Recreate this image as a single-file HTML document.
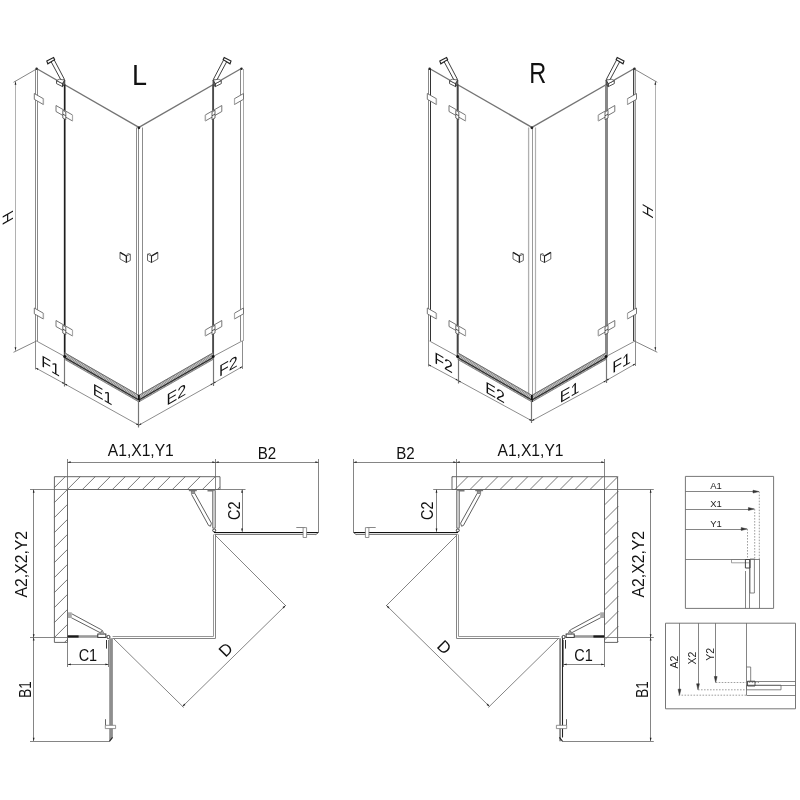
<!DOCTYPE html>
<html><head><meta charset="utf-8"><style>
html,body{margin:0;padding:0;background:#fff;}
svg{display:block;font-family:"Liberation Sans",sans-serif;}
text{-webkit-font-smoothing:antialiased;}
body{will-change:transform;}
</style></head><body>
<svg width="800" height="800" viewBox="0 0 800 800">
<defs>
<pattern id="hatchL" patternUnits="userSpaceOnUse" width="1.7" height="20" patternTransform="rotate(-35)"><rect width="1.7" height="20" fill="#8a8a8a"/><rect width="0.7" height="20" fill="#d8d8d8"/></pattern>
<pattern id="hatchR" patternUnits="userSpaceOnUse" width="1.7" height="20" patternTransform="rotate(35)"><rect width="1.7" height="20" fill="#8a8a8a"/><rect width="0.7" height="20" fill="#d8d8d8"/></pattern>
</defs>
<rect width="800" height="800" fill="#fff"/>
<line x1="36.50" y1="68.50" x2="138.90" y2="127.40" stroke="#747474" stroke-width="1.35"/>
<line x1="138.90" y1="127.40" x2="241.30" y2="68.50" stroke="#747474" stroke-width="1.35"/>
<line x1="35.50" y1="69.00" x2="35.50" y2="341.00" stroke="#8a8a8a" stroke-width="1"/>
<line x1="37.50" y1="69.00" x2="37.50" y2="341.00" stroke="#8a8a8a" stroke-width="1"/>
<line x1="240.50" y1="69.00" x2="240.50" y2="341.00" stroke="#888" stroke-width="1"/>
<line x1="243.50" y1="69.00" x2="243.50" y2="341.00" stroke="#aaa" stroke-width="1"/>
<line x1="136.50" y1="127.50" x2="136.50" y2="398.50" stroke="#8c8c8c" stroke-width="1"/>
<line x1="138.50" y1="127.50" x2="138.50" y2="398.50" stroke="#8c8c8c" stroke-width="1"/>
<line x1="142.50" y1="127.50" x2="142.50" y2="398.50" stroke="#8c8c8c" stroke-width="1"/>
<circle cx="36.60" cy="68.8" r="1.2" fill="#222"/>
<circle cx="241.50" cy="68.8" r="1.2" fill="#222"/>
<circle cx="138.90" cy="127.8" r="1.4" fill="#222"/>
<line x1="64.70" y1="84.50" x2="64.70" y2="356.00" stroke="#1e1e1e" stroke-width="1.7"/>
<line x1="213.10" y1="84.50" x2="213.10" y2="356.00" stroke="#4a4a4a" stroke-width="1.9"/>
<line x1="36.50" y1="341.00" x2="64.70" y2="356.50" stroke="#8c8c8c" stroke-width="1"/>
<line x1="242.00" y1="341.00" x2="213.10" y2="356.50" stroke="#8c8c8c" stroke-width="1"/>
<polygon points="64.70,352.60 138.90,395.10 138.90,402.10 64.70,359.60" stroke="none" stroke-width="0" fill="url(#hatchL)"/>
<line x1="64.70" y1="352.80" x2="138.90" y2="395.30" stroke="#666" stroke-width="0.9"/>
<line x1="64.70" y1="359.40" x2="138.90" y2="401.90" stroke="#777" stroke-width="0.8"/>
<line x1="64.70" y1="357.40" x2="138.90" y2="399.90" stroke="#2a2a2a" stroke-width="1.2"/>
<polygon points="213.10,352.60 138.90,395.10 138.90,402.10 213.10,359.60" stroke="none" stroke-width="0" fill="url(#hatchR)"/>
<line x1="213.10" y1="352.80" x2="138.90" y2="395.30" stroke="#666" stroke-width="0.9"/>
<line x1="213.10" y1="359.40" x2="138.90" y2="401.90" stroke="#777" stroke-width="0.8"/>
<line x1="213.10" y1="357.40" x2="138.90" y2="399.90" stroke="#2a2a2a" stroke-width="1.2"/>
<circle cx="64.70" cy="356.5" r="1.5" fill="#111"/>
<circle cx="213.10" cy="356.5" r="1.5" fill="#111"/>
<line x1="138.90" y1="395.00" x2="138.90" y2="402.00" stroke="#111" stroke-width="1.8"/>
<polygon points="51.00,61.50 61.50,81.00 64.50,79.50 54.00,59.50" stroke="#2a2a2a" stroke-width="0.9" fill="#fff"/>
<polygon points="46.80,61.00 53.60,57.60 54.60,59.60 47.80,63.80" stroke="#222" stroke-width="1.1" fill="#fff"/>
<polygon points="56.50,80.60 62.50,83.60 62.50,86.60 56.50,83.60" stroke="#444" stroke-width="0.9" fill="#fff"/>
<polygon points="56.50,80.60 59.50,79.20 64.80,80.20 62.50,83.60" stroke="#444" stroke-width="0.8" fill="#fff"/>
<polygon points="62.50,83.60 64.80,80.20 64.80,84.50 62.50,86.60" stroke="#333" stroke-width="0.8" fill="#666"/>
<polygon points="226.80,61.50 216.30,81.00 213.30,79.50 223.80,59.50" stroke="#2a2a2a" stroke-width="0.9" fill="#fff"/>
<polygon points="231.00,61.00 224.20,57.60 223.20,59.60 230.00,63.80" stroke="#222" stroke-width="1.1" fill="#fff"/>
<polygon points="221.30,80.60 215.30,83.60 215.30,86.60 221.30,83.60" stroke="#444" stroke-width="0.9" fill="#fff"/>
<polygon points="221.30,80.60 218.30,79.20 213.00,80.20 215.30,83.60" stroke="#444" stroke-width="0.8" fill="#fff"/>
<polygon points="215.30,83.60 213.00,80.20 213.00,84.50 215.30,86.60" stroke="#333" stroke-width="0.8" fill="#666"/>
<polygon points="34.30,93.50 43.30,98.67 43.30,104.47 34.30,99.30" stroke="#666" stroke-width="0.9" fill="#fff"/>
<line x1="43.50" y1="98.67" x2="43.50" y2="104.47" stroke="#aaa" stroke-width="1.2"/>
<polygon points="243.50,93.50 234.50,98.67 234.50,104.47 243.50,99.30" stroke="#666" stroke-width="0.9" fill="#fff"/>
<line x1="234.50" y1="98.67" x2="234.50" y2="104.47" stroke="#aaa" stroke-width="1.2"/>
<polygon points="34.30,308.00 43.30,313.18 43.30,318.98 34.30,313.80" stroke="#666" stroke-width="0.9" fill="#fff"/>
<line x1="43.50" y1="313.18" x2="43.50" y2="318.98" stroke="#aaa" stroke-width="1.2"/>
<polygon points="243.50,308.00 234.50,313.18 234.50,318.98 243.50,313.80" stroke="#666" stroke-width="0.9" fill="#fff"/>
<line x1="234.50" y1="313.18" x2="234.50" y2="318.98" stroke="#aaa" stroke-width="1.2"/>
<polygon points="56.00,105.50 72.50,114.99 72.50,120.99 56.00,111.50" stroke="#666" stroke-width="0.9" fill="#fff"/>
<line x1="72.50" y1="114.99" x2="72.50" y2="120.99" stroke="#aaa" stroke-width="1.2"/>
<polygon points="62.80,110.30 65.80,112.00 65.80,119.70 62.80,118.00" stroke="#444" stroke-width="0.8" fill="#fff"/>
<line x1="62.80" y1="114.10" x2="65.80" y2="115.80" stroke="#444" stroke-width="0.9"/>
<polygon points="221.80,105.50 205.30,114.99 205.30,120.99 221.80,111.50" stroke="#666" stroke-width="0.9" fill="#fff"/>
<line x1="205.50" y1="114.99" x2="205.50" y2="120.99" stroke="#aaa" stroke-width="1.2"/>
<polygon points="215.00,110.30 212.00,112.00 212.00,119.70 215.00,118.00" stroke="#444" stroke-width="0.8" fill="#fff"/>
<line x1="215.00" y1="114.10" x2="212.00" y2="115.80" stroke="#444" stroke-width="0.9"/>
<polygon points="56.00,320.50 72.50,329.99 72.50,335.99 56.00,326.50" stroke="#666" stroke-width="0.9" fill="#fff"/>
<line x1="72.50" y1="329.99" x2="72.50" y2="335.99" stroke="#aaa" stroke-width="1.2"/>
<polygon points="62.80,325.30 65.80,327.00 65.80,334.70 62.80,333.00" stroke="#444" stroke-width="0.8" fill="#fff"/>
<line x1="62.80" y1="329.10" x2="65.80" y2="330.80" stroke="#444" stroke-width="0.9"/>
<polygon points="221.80,320.50 205.30,329.99 205.30,335.99 221.80,326.50" stroke="#666" stroke-width="0.9" fill="#fff"/>
<line x1="205.50" y1="329.99" x2="205.50" y2="335.99" stroke="#aaa" stroke-width="1.2"/>
<polygon points="215.00,325.30 212.00,327.00 212.00,334.70 215.00,333.00" stroke="#444" stroke-width="0.8" fill="#fff"/>
<line x1="215.00" y1="329.10" x2="212.00" y2="330.80" stroke="#444" stroke-width="0.9"/>
<polygon points="120.00,252.40 126.30,256.00 126.30,262.50 120.00,259.00" stroke="#555" stroke-width="0.9" fill="#fff"/>
<polygon points="126.30,256.00 130.30,254.20 130.30,260.50 126.30,262.50" stroke="#555" stroke-width="0.9" fill="#fff"/>
<polyline points="126.30,256.00 127.90,253.40 130.30,254.20" stroke="#666" stroke-width="0.8" fill="none"/>
<line x1="120.00" y1="252.40" x2="126.30" y2="256.00" stroke="#222" stroke-width="1.3"/>
<line x1="126.50" y1="256.00" x2="126.50" y2="262.50" stroke="#222" stroke-width="1.1"/>
<polygon points="157.80,252.40 151.50,256.00 151.50,262.50 157.80,259.00" stroke="#555" stroke-width="0.9" fill="#fff"/>
<polygon points="151.50,256.00 147.50,254.20 147.50,260.50 151.50,262.50" stroke="#555" stroke-width="0.9" fill="#fff"/>
<polyline points="151.50,256.00 149.90,253.40 147.50,254.20" stroke="#666" stroke-width="0.8" fill="none"/>
<line x1="157.80" y1="252.40" x2="151.50" y2="256.00" stroke="#222" stroke-width="1.3"/>
<line x1="151.50" y1="256.00" x2="151.50" y2="262.50" stroke="#222" stroke-width="1.1"/>
<line x1="15.50" y1="81.00" x2="15.50" y2="351.00" stroke="#a8a8a8" stroke-width="0.9"/>
<line x1="13.50" y1="82.30" x2="36.50" y2="69.00" stroke="#666" stroke-width="0.8"/>
<line x1="13.50" y1="352.30" x2="36.50" y2="341.00" stroke="#666" stroke-width="0.8"/>
<polygon points="15.50,81.50 14.60,84.70 16.40,84.70" fill="#222" stroke="none"/>
<polygon points="15.50,350.50 16.40,347.30 14.60,347.30" fill="#222" stroke="none"/>
<text x="0" y="0" font-size="15" text-anchor="middle" fill="#111" transform="translate(7.80,217.60) skewY(-30) rotate(-90) translate(0,5)">H</text>
<line x1="35.50" y1="341.00" x2="35.50" y2="369.50" stroke="#707070" stroke-width="0.8"/>
<line x1="64.50" y1="358.00" x2="64.50" y2="386.50" stroke="#777" stroke-width="1.2"/>
<line x1="138.50" y1="400.00" x2="138.50" y2="427.50" stroke="#777" stroke-width="1.2"/>
<line x1="213.50" y1="358.00" x2="213.50" y2="386.00" stroke="#777" stroke-width="1.2"/>
<line x1="242.50" y1="340.50" x2="242.50" y2="369.00" stroke="#707070" stroke-width="0.8"/>
<line x1="35.80" y1="368.00" x2="64.60" y2="383.80" stroke="#707070" stroke-width="0.8"/>
<polygon points="35.80,368.00 37.69,369.95 38.46,368.55" fill="#222" stroke="none"/>
<polygon points="64.60,383.80 62.71,381.85 61.94,383.25" fill="#222" stroke="none"/>
<line x1="64.60" y1="383.80" x2="138.80" y2="425.20" stroke="#707070" stroke-width="0.8"/>
<polygon points="64.60,383.80 66.48,385.77 67.26,384.37" fill="#222" stroke="none"/>
<polygon points="138.80,425.20 136.92,423.23 136.14,424.63" fill="#222" stroke="none"/>
<line x1="138.80" y1="425.20" x2="213.10" y2="383.40" stroke="#707070" stroke-width="0.8"/>
<polygon points="138.80,425.20 141.46,424.62 140.67,423.23" fill="#222" stroke="none"/>
<polygon points="213.10,383.40 210.44,383.98 211.23,385.37" fill="#222" stroke="none"/>
<line x1="213.10" y1="383.40" x2="242.40" y2="366.60" stroke="#707070" stroke-width="0.8"/>
<polygon points="213.10,383.40 215.75,382.80 214.96,381.41" fill="#222" stroke="none"/>
<polygon points="242.40,366.60 239.75,367.20 240.54,368.59" fill="#222" stroke="none"/>
<text x="0" y="0" font-size="16" text-anchor="middle" fill="#111" transform="translate(50.50,371.50) skewY(30)">F1</text>
<text x="0" y="0" font-size="16" text-anchor="middle" fill="#111" transform="translate(102.50,400.00) skewY(30)">E1</text>
<text x="0" y="0" font-size="16" text-anchor="middle" fill="#111" transform="translate(176.30,400.00) skewY(-30)">E2</text>
<text x="0" y="0" font-size="16" text-anchor="middle" fill="#111" transform="translate(228.30,371.50) skewY(-30)">F2</text>
<text x="0" y="0" font-size="30" text-anchor="middle" fill="#111" textLength="15" lengthAdjust="spacingAndGlyphs" transform="translate(139.50,84.80) ">L</text>
<line x1="429.50" y1="68.50" x2="531.90" y2="127.40" stroke="#747474" stroke-width="1.35"/>
<line x1="531.90" y1="127.40" x2="634.30" y2="68.50" stroke="#747474" stroke-width="1.35"/>
<line x1="428.50" y1="69.00" x2="428.50" y2="341.00" stroke="#888" stroke-width="1"/>
<line x1="430.50" y1="69.00" x2="430.50" y2="341.00" stroke="#333" stroke-width="1"/>
<line x1="633.50" y1="69.00" x2="633.50" y2="341.00" stroke="#444" stroke-width="1"/>
<line x1="634.50" y1="69.00" x2="634.50" y2="341.00" stroke="#ccc" stroke-width="1"/>
<line x1="635.50" y1="69.00" x2="635.50" y2="341.00" stroke="#999" stroke-width="1"/>
<line x1="528.60" y1="127.50" x2="528.60" y2="398.50" stroke="#b0b0b0" stroke-width="1.3"/>
<line x1="532.50" y1="127.50" x2="532.50" y2="398.50" stroke="#999" stroke-width="1"/>
<line x1="535.50" y1="127.50" x2="535.50" y2="398.50" stroke="#b0b0b0" stroke-width="1.2"/>
<circle cx="429.60" cy="68.8" r="1.2" fill="#222"/>
<circle cx="634.50" cy="68.8" r="1.2" fill="#222"/>
<circle cx="531.90" cy="127.8" r="1.4" fill="#222"/>
<line x1="457.70" y1="84.50" x2="457.70" y2="356.00" stroke="#444" stroke-width="2.0"/>
<line x1="606.50" y1="84.50" x2="606.50" y2="356.00" stroke="#888" stroke-width="3.0"/>
<line x1="429.50" y1="341.00" x2="457.70" y2="356.50" stroke="#8c8c8c" stroke-width="1"/>
<line x1="635.00" y1="341.00" x2="606.10" y2="356.50" stroke="#8c8c8c" stroke-width="1"/>
<polygon points="457.70,352.60 531.90,395.10 531.90,402.10 457.70,359.60" stroke="none" stroke-width="0" fill="url(#hatchL)"/>
<line x1="457.70" y1="352.80" x2="531.90" y2="395.30" stroke="#666" stroke-width="0.9"/>
<line x1="457.70" y1="359.40" x2="531.90" y2="401.90" stroke="#777" stroke-width="0.8"/>
<line x1="457.70" y1="357.40" x2="531.90" y2="399.90" stroke="#2a2a2a" stroke-width="1.2"/>
<polygon points="606.10,352.60 531.90,395.10 531.90,402.10 606.10,359.60" stroke="none" stroke-width="0" fill="url(#hatchR)"/>
<line x1="606.10" y1="352.80" x2="531.90" y2="395.30" stroke="#666" stroke-width="0.9"/>
<line x1="606.10" y1="359.40" x2="531.90" y2="401.90" stroke="#777" stroke-width="0.8"/>
<line x1="606.10" y1="357.40" x2="531.90" y2="399.90" stroke="#2a2a2a" stroke-width="1.2"/>
<circle cx="457.70" cy="356.5" r="1.5" fill="#111"/>
<circle cx="606.10" cy="356.5" r="1.5" fill="#111"/>
<line x1="531.90" y1="395.00" x2="531.90" y2="402.00" stroke="#111" stroke-width="1.8"/>
<polygon points="444.00,61.50 454.50,81.00 457.50,79.50 447.00,59.50" stroke="#2a2a2a" stroke-width="0.9" fill="#fff"/>
<polygon points="439.80,61.00 446.60,57.60 447.60,59.60 440.80,63.80" stroke="#222" stroke-width="1.1" fill="#fff"/>
<polygon points="449.50,80.60 455.50,83.60 455.50,86.60 449.50,83.60" stroke="#444" stroke-width="0.9" fill="#fff"/>
<polygon points="449.50,80.60 452.50,79.20 457.80,80.20 455.50,83.60" stroke="#444" stroke-width="0.8" fill="#fff"/>
<polygon points="455.50,83.60 457.80,80.20 457.80,84.50 455.50,86.60" stroke="#333" stroke-width="0.8" fill="#666"/>
<polygon points="619.80,61.50 609.30,81.00 606.30,79.50 616.80,59.50" stroke="#2a2a2a" stroke-width="0.9" fill="#fff"/>
<polygon points="624.00,61.00 617.20,57.60 616.20,59.60 623.00,63.80" stroke="#222" stroke-width="1.1" fill="#fff"/>
<polygon points="614.30,80.60 608.30,83.60 608.30,86.60 614.30,83.60" stroke="#444" stroke-width="0.9" fill="#fff"/>
<polygon points="614.30,80.60 611.30,79.20 606.00,80.20 608.30,83.60" stroke="#444" stroke-width="0.8" fill="#fff"/>
<polygon points="608.30,83.60 606.00,80.20 606.00,84.50 608.30,86.60" stroke="#333" stroke-width="0.8" fill="#666"/>
<polygon points="427.30,93.50 436.30,98.67 436.30,104.47 427.30,99.30" stroke="#666" stroke-width="0.9" fill="#fff"/>
<line x1="436.50" y1="98.67" x2="436.50" y2="104.47" stroke="#aaa" stroke-width="1.2"/>
<polygon points="636.50,93.50 627.50,98.67 627.50,104.47 636.50,99.30" stroke="#666" stroke-width="0.9" fill="#fff"/>
<line x1="627.50" y1="98.67" x2="627.50" y2="104.47" stroke="#aaa" stroke-width="1.2"/>
<polygon points="427.30,308.00 436.30,313.18 436.30,318.98 427.30,313.80" stroke="#666" stroke-width="0.9" fill="#fff"/>
<line x1="436.50" y1="313.18" x2="436.50" y2="318.98" stroke="#aaa" stroke-width="1.2"/>
<polygon points="636.50,308.00 627.50,313.18 627.50,318.98 636.50,313.80" stroke="#666" stroke-width="0.9" fill="#fff"/>
<line x1="627.50" y1="313.18" x2="627.50" y2="318.98" stroke="#aaa" stroke-width="1.2"/>
<polygon points="449.00,105.50 465.50,114.99 465.50,120.99 449.00,111.50" stroke="#666" stroke-width="0.9" fill="#fff"/>
<line x1="465.50" y1="114.99" x2="465.50" y2="120.99" stroke="#aaa" stroke-width="1.2"/>
<polygon points="455.80,110.30 458.80,112.00 458.80,119.70 455.80,118.00" stroke="#444" stroke-width="0.8" fill="#fff"/>
<line x1="455.80" y1="114.10" x2="458.80" y2="115.80" stroke="#444" stroke-width="0.9"/>
<polygon points="614.80,105.50 598.30,114.99 598.30,120.99 614.80,111.50" stroke="#666" stroke-width="0.9" fill="#fff"/>
<line x1="598.50" y1="114.99" x2="598.50" y2="120.99" stroke="#aaa" stroke-width="1.2"/>
<polygon points="608.00,110.30 605.00,112.00 605.00,119.70 608.00,118.00" stroke="#444" stroke-width="0.8" fill="#fff"/>
<line x1="608.00" y1="114.10" x2="605.00" y2="115.80" stroke="#444" stroke-width="0.9"/>
<polygon points="449.00,320.50 465.50,329.99 465.50,335.99 449.00,326.50" stroke="#666" stroke-width="0.9" fill="#fff"/>
<line x1="465.50" y1="329.99" x2="465.50" y2="335.99" stroke="#aaa" stroke-width="1.2"/>
<polygon points="455.80,325.30 458.80,327.00 458.80,334.70 455.80,333.00" stroke="#444" stroke-width="0.8" fill="#fff"/>
<line x1="455.80" y1="329.10" x2="458.80" y2="330.80" stroke="#444" stroke-width="0.9"/>
<polygon points="614.80,320.50 598.30,329.99 598.30,335.99 614.80,326.50" stroke="#666" stroke-width="0.9" fill="#fff"/>
<line x1="598.50" y1="329.99" x2="598.50" y2="335.99" stroke="#aaa" stroke-width="1.2"/>
<polygon points="608.00,325.30 605.00,327.00 605.00,334.70 608.00,333.00" stroke="#444" stroke-width="0.8" fill="#fff"/>
<line x1="608.00" y1="329.10" x2="605.00" y2="330.80" stroke="#444" stroke-width="0.9"/>
<polygon points="513.00,252.40 519.30,256.00 519.30,262.50 513.00,259.00" stroke="#555" stroke-width="0.9" fill="#fff"/>
<polygon points="519.30,256.00 523.30,254.20 523.30,260.50 519.30,262.50" stroke="#555" stroke-width="0.9" fill="#fff"/>
<polyline points="519.30,256.00 520.90,253.40 523.30,254.20" stroke="#666" stroke-width="0.8" fill="none"/>
<line x1="513.00" y1="252.40" x2="519.30" y2="256.00" stroke="#222" stroke-width="1.3"/>
<line x1="519.50" y1="256.00" x2="519.50" y2="262.50" stroke="#222" stroke-width="1.1"/>
<polygon points="550.80,252.40 544.50,256.00 544.50,262.50 550.80,259.00" stroke="#555" stroke-width="0.9" fill="#fff"/>
<polygon points="544.50,256.00 540.50,254.20 540.50,260.50 544.50,262.50" stroke="#555" stroke-width="0.9" fill="#fff"/>
<polyline points="544.50,256.00 542.90,253.40 540.50,254.20" stroke="#666" stroke-width="0.8" fill="none"/>
<line x1="550.80" y1="252.40" x2="544.50" y2="256.00" stroke="#222" stroke-width="1.3"/>
<line x1="544.50" y1="256.00" x2="544.50" y2="262.50" stroke="#222" stroke-width="1.1"/>
<line x1="655.50" y1="81.00" x2="655.50" y2="351.00" stroke="#a8a8a8" stroke-width="0.9"/>
<line x1="657.30" y1="82.30" x2="634.30" y2="69.00" stroke="#666" stroke-width="0.8"/>
<line x1="657.30" y1="352.30" x2="634.30" y2="341.00" stroke="#666" stroke-width="0.8"/>
<polygon points="655.30,81.50 654.40,84.70 656.20,84.70" fill="#222" stroke="none"/>
<polygon points="655.30,350.50 656.20,347.30 654.40,347.30" fill="#222" stroke="none"/>
<text x="0" y="0" font-size="15" text-anchor="middle" fill="#111" transform="translate(647.50,211.30) skewY(30) rotate(-90) translate(0,5)">H</text>
<line x1="428.50" y1="341.00" x2="428.50" y2="366.50" stroke="#707070" stroke-width="0.8"/>
<line x1="458.50" y1="358.00" x2="458.50" y2="383.50" stroke="#777" stroke-width="1.2"/>
<line x1="531.50" y1="400.00" x2="531.50" y2="423.00" stroke="#777" stroke-width="1.2"/>
<line x1="606.50" y1="358.00" x2="606.50" y2="383.00" stroke="#777" stroke-width="1.2"/>
<line x1="635.50" y1="340.50" x2="635.50" y2="366.00" stroke="#707070" stroke-width="0.8"/>
<line x1="428.40" y1="364.60" x2="458.20" y2="380.60" stroke="#707070" stroke-width="0.8"/>
<polygon points="428.40,364.60 430.31,366.53 431.07,365.13" fill="#222" stroke="none"/>
<polygon points="458.20,380.60 456.29,378.67 455.53,380.07" fill="#222" stroke="none"/>
<line x1="458.20" y1="380.60" x2="531.80" y2="420.80" stroke="#707070" stroke-width="0.8"/>
<polygon points="458.20,380.60 460.10,382.55 460.87,381.14" fill="#222" stroke="none"/>
<polygon points="531.80,420.80 529.90,418.85 529.13,420.26" fill="#222" stroke="none"/>
<line x1="531.80" y1="420.80" x2="606.20" y2="380.60" stroke="#707070" stroke-width="0.8"/>
<polygon points="531.80,420.80 534.47,420.27 533.71,418.86" fill="#222" stroke="none"/>
<polygon points="606.20,380.60 603.53,381.13 604.29,382.54" fill="#222" stroke="none"/>
<line x1="606.20" y1="380.60" x2="635.40" y2="363.80" stroke="#707070" stroke-width="0.8"/>
<polygon points="606.20,380.60 608.85,380.00 608.05,378.61" fill="#222" stroke="none"/>
<polygon points="635.40,363.80 632.75,364.40 633.55,365.79" fill="#222" stroke="none"/>
<text x="0" y="0" font-size="16" text-anchor="middle" fill="#111" transform="translate(443.50,368.20) skewY(30)">F2</text>
<text x="0" y="0" font-size="16" text-anchor="middle" fill="#111" transform="translate(495.00,398.00) skewY(30)">E2</text>
<text x="0" y="0" font-size="16" text-anchor="middle" fill="#111" transform="translate(569.50,397.50) skewY(-30)">E1</text>
<text x="0" y="0" font-size="16" text-anchor="middle" fill="#111" transform="translate(621.50,368.00) skewY(-30)">F1</text>
<text x="0" y="0" font-size="29" text-anchor="middle" fill="#111" textLength="17" lengthAdjust="spacingAndGlyphs" transform="translate(537.80,82.60) ">R</text>
<polygon points="54.40,476.70 220.00,476.70 220.00,489.50 67.50,489.50 67.50,642.40 54.40,642.40" stroke="#555" stroke-width="0.9" fill="none"/>
<line x1="65.20" y1="476.70" x2="54.40" y2="487.50" stroke="#555" stroke-width="0.8"/>
<line x1="80.20" y1="476.70" x2="67.40" y2="489.50" stroke="#555" stroke-width="0.8"/>
<line x1="67.40" y1="489.50" x2="54.40" y2="502.50" stroke="#555" stroke-width="0.8"/>
<line x1="95.20" y1="476.70" x2="82.40" y2="489.50" stroke="#555" stroke-width="0.8"/>
<line x1="67.50" y1="504.40" x2="54.40" y2="517.50" stroke="#555" stroke-width="0.8"/>
<line x1="110.20" y1="476.70" x2="97.40" y2="489.50" stroke="#555" stroke-width="0.8"/>
<line x1="67.50" y1="519.40" x2="54.40" y2="532.50" stroke="#555" stroke-width="0.8"/>
<line x1="125.20" y1="476.70" x2="112.40" y2="489.50" stroke="#555" stroke-width="0.8"/>
<line x1="67.50" y1="534.40" x2="54.40" y2="547.50" stroke="#555" stroke-width="0.8"/>
<line x1="140.20" y1="476.70" x2="127.40" y2="489.50" stroke="#555" stroke-width="0.8"/>
<line x1="67.50" y1="549.40" x2="54.40" y2="562.50" stroke="#555" stroke-width="0.8"/>
<line x1="155.20" y1="476.70" x2="142.40" y2="489.50" stroke="#555" stroke-width="0.8"/>
<line x1="67.50" y1="564.40" x2="54.40" y2="577.50" stroke="#555" stroke-width="0.8"/>
<line x1="170.20" y1="476.70" x2="157.40" y2="489.50" stroke="#555" stroke-width="0.8"/>
<line x1="67.50" y1="579.40" x2="54.40" y2="592.50" stroke="#555" stroke-width="0.8"/>
<line x1="185.20" y1="476.70" x2="172.40" y2="489.50" stroke="#555" stroke-width="0.8"/>
<line x1="67.50" y1="594.40" x2="54.40" y2="607.50" stroke="#555" stroke-width="0.8"/>
<line x1="200.20" y1="476.70" x2="187.40" y2="489.50" stroke="#555" stroke-width="0.8"/>
<line x1="67.50" y1="609.40" x2="54.40" y2="622.50" stroke="#555" stroke-width="0.8"/>
<line x1="215.20" y1="476.70" x2="202.40" y2="489.50" stroke="#555" stroke-width="0.8"/>
<line x1="67.50" y1="624.40" x2="54.40" y2="637.50" stroke="#555" stroke-width="0.8"/>
<line x1="220.00" y1="486.90" x2="217.40" y2="489.50" stroke="#555" stroke-width="0.8"/>
<line x1="67.50" y1="639.40" x2="64.50" y2="642.40" stroke="#555" stroke-width="0.8"/>
<line x1="67.50" y1="459.00" x2="67.50" y2="489.50" stroke="#666" stroke-width="0.8"/>
<line x1="215.50" y1="459.00" x2="215.50" y2="489.50" stroke="#666" stroke-width="0.8"/>
<line x1="318.50" y1="459.00" x2="318.50" y2="532.50" stroke="#666" stroke-width="0.8"/>
<line x1="67.50" y1="462.50" x2="318.60" y2="462.50" stroke="#666" stroke-width="0.8"/>
<line x1="30.00" y1="489.50" x2="67.50" y2="489.50" stroke="#666" stroke-width="0.8"/>
<line x1="215.50" y1="489.50" x2="245.50" y2="489.50" stroke="#666" stroke-width="0.8"/>
<line x1="242.50" y1="489.50" x2="242.50" y2="531.80" stroke="#666" stroke-width="0.8"/>
<line x1="30.00" y1="637.50" x2="67.60" y2="637.50" stroke="#666" stroke-width="0.8"/>
<line x1="30.00" y1="741.50" x2="110.00" y2="741.50" stroke="#666" stroke-width="0.8"/>
<line x1="33.50" y1="489.50" x2="33.50" y2="741.00" stroke="#666" stroke-width="0.8"/>
<line x1="67.50" y1="642.00" x2="67.50" y2="667.00" stroke="#666" stroke-width="0.8"/>
<line x1="108.50" y1="640.00" x2="108.50" y2="667.00" stroke="#666" stroke-width="0.8"/>
<line x1="67.60" y1="664.50" x2="108.60" y2="664.50" stroke="#666" stroke-width="0.8"/>
<line x1="215.00" y1="535.00" x2="286.00" y2="606.00" stroke="#666" stroke-width="0.8"/>
<line x1="113.75" y1="638.75" x2="183.75" y2="707.50" stroke="#666" stroke-width="0.8"/>
<line x1="182.50" y1="706.50" x2="285.50" y2="605.50" stroke="#666" stroke-width="0.8"/>
<polygon points="67.50,462.20 70.70,463.10 70.70,461.30" fill="#222" stroke="none"/>
<polygon points="215.50,462.20 212.30,461.30 212.30,463.10" fill="#222" stroke="none"/>
<polygon points="215.50,462.20 218.70,463.10 218.70,461.30" fill="#222" stroke="none"/>
<polygon points="318.60,462.20 315.40,461.30 315.40,463.10" fill="#222" stroke="none"/>
<polygon points="67.60,664.40 70.80,665.30 70.80,663.50" fill="#222" stroke="none"/>
<polygon points="108.60,664.40 105.40,663.50 105.40,665.30" fill="#222" stroke="none"/>
<polygon points="182.50,706.50 185.41,704.90 184.15,703.62" fill="#222" stroke="none"/>
<polygon points="285.50,605.50 282.59,607.10 283.85,608.38" fill="#222" stroke="none"/>
<polygon points="33.70,489.50 32.80,492.70 34.60,492.70" fill="#222" stroke="none"/>
<polygon points="33.70,637.40 34.60,634.20 32.80,634.20" fill="#222" stroke="none"/>
<polygon points="33.70,637.40 32.80,640.60 34.60,640.60" fill="#222" stroke="none"/>
<polygon points="33.70,741.00 34.60,737.80 32.80,737.80" fill="#222" stroke="none"/>
<polygon points="242.00,489.50 241.10,492.70 242.90,492.70" fill="#222" stroke="none"/>
<polygon points="242.00,531.80 242.90,528.60 241.10,528.60" fill="#222" stroke="none"/>
<rect x="212.60" y="490.60" width="2.80" height="37.40" fill="#c8c8c8" stroke="#777" stroke-width="0.8"/>
<polyline points="191.50,494.30 208.60,525.50 210.50,526.20 211.40,523.20 194.80,493.40" stroke="#444" stroke-width="0.85" fill="#fff"/>
<rect x="188.90" y="489.80" width="7.90" height="1.40" fill="#777" stroke="none" stroke-width="0"/>
<rect x="191.20" y="491.00" width="3.60" height="2.60" fill="#999" stroke="#666" stroke-width="0.6"/>
<rect x="207.50" y="489.80" width="5.60" height="1.70" fill="#777" stroke="none" stroke-width="0"/>
<line x1="214.00" y1="532.50" x2="318.40" y2="532.50" stroke="#111" stroke-width="1.1"/>
<line x1="214.50" y1="534.50" x2="316.00" y2="534.50" stroke="#808080" stroke-width="1.2"/>
<line x1="214.50" y1="533.50" x2="316.50" y2="533.50" stroke="#e0e0e0" stroke-width="1.0"/>
<line x1="315.80" y1="534.60" x2="318.40" y2="532.60" stroke="#666" stroke-width="1.0"/>
<circle cx="214.20" cy="530.4" r="1.5" fill="#fff" stroke="#222" stroke-width="0.9"/>
<line x1="296.30" y1="527.50" x2="305.00" y2="527.50" stroke="#888" stroke-width="1.0"/>
<polygon points="303.10,527.60 306.60,527.60 306.60,537.50 303.10,537.50" stroke="#777" stroke-width="0.8" fill="#fff"/>
<line x1="213.50" y1="534.50" x2="213.50" y2="636.30" stroke="#8a8a8a" stroke-width="0.9"/>
<line x1="215.50" y1="534.50" x2="215.50" y2="638.40" stroke="#777" stroke-width="0.9"/>
<line x1="112.60" y1="636.50" x2="213.60" y2="636.50" stroke="#8a8a8a" stroke-width="0.9"/>
<line x1="112.60" y1="638.50" x2="215.50" y2="638.50" stroke="#777" stroke-width="0.9"/>
<rect x="67.50" y="635.20" width="30.50" height="2.60" fill="#9a9a9a" stroke="none" stroke-width="0"/>
<rect x="67.50" y="635.40" width="11.10" height="2.20" fill="#1a1a1a" stroke="none" stroke-width="0"/>
<polyline points="71.80,613.80 100.50,629.30 102.50,630.80 100.00,632.60 71.25,617.70" stroke="#444" stroke-width="0.85" fill="#fff"/>
<rect x="67.90" y="612.30" width="3.90" height="5.70" fill="#aaa" stroke="none" stroke-width="0"/>
<rect x="97.80" y="634.00" width="8.10" height="3.40" fill="#fff" stroke="#222" stroke-width="0.9"/>
<polygon points="100.00,634.00 102.30,630.40 104.30,634.00" stroke="#777" stroke-width="0.8" fill="#aaa"/>
<circle cx="108.40" cy="637" r="1.6" fill="#fff" stroke="#222" stroke-width="0.9"/>
<polygon points="109.20,638.20 112.90,638.20 112.90,737.10 109.40,741.30 109.20,741.30" stroke="none" stroke-width="0" fill="#8e8e8e"/>
<line x1="112.60" y1="737.30" x2="109.60" y2="741.20" stroke="#222" stroke-width="1.1"/>
<line x1="106.50" y1="640.00" x2="106.50" y2="648.60" stroke="#333" stroke-width="1.0"/>
<line x1="105.50" y1="719.20" x2="105.50" y2="725.50" stroke="#666" stroke-width="1.0"/>
<polygon points="105.30,725.30 115.60,725.30 115.60,728.60 105.30,728.60" stroke="#777" stroke-width="0.8" fill="#fff"/>
<polygon points="617.60,476.70 452.00,476.70 452.00,489.50 604.50,489.50 604.50,642.40 617.60,642.40" stroke="#555" stroke-width="0.9" fill="none"/>
<line x1="452.80" y1="476.70" x2="452.20" y2="477.30" stroke="#555" stroke-width="0.8"/>
<line x1="467.80" y1="476.70" x2="455.00" y2="489.50" stroke="#555" stroke-width="0.8"/>
<line x1="482.80" y1="476.70" x2="470.00" y2="489.50" stroke="#555" stroke-width="0.8"/>
<line x1="497.80" y1="476.70" x2="485.00" y2="489.50" stroke="#555" stroke-width="0.8"/>
<line x1="512.80" y1="476.70" x2="500.00" y2="489.50" stroke="#555" stroke-width="0.8"/>
<line x1="527.80" y1="476.70" x2="515.00" y2="489.50" stroke="#555" stroke-width="0.8"/>
<line x1="542.80" y1="476.70" x2="530.00" y2="489.50" stroke="#555" stroke-width="0.8"/>
<line x1="557.80" y1="476.70" x2="545.00" y2="489.50" stroke="#555" stroke-width="0.8"/>
<line x1="572.80" y1="476.70" x2="560.00" y2="489.50" stroke="#555" stroke-width="0.8"/>
<line x1="587.80" y1="476.70" x2="575.00" y2="489.50" stroke="#555" stroke-width="0.8"/>
<line x1="602.80" y1="476.70" x2="590.00" y2="489.50" stroke="#555" stroke-width="0.8"/>
<line x1="617.80" y1="476.70" x2="605.00" y2="489.50" stroke="#555" stroke-width="0.8"/>
<line x1="605.00" y1="489.50" x2="604.60" y2="489.90" stroke="#555" stroke-width="0.8"/>
<line x1="618.30" y1="491.20" x2="604.60" y2="504.90" stroke="#555" stroke-width="0.8"/>
<line x1="618.30" y1="506.20" x2="604.60" y2="519.90" stroke="#555" stroke-width="0.8"/>
<line x1="618.30" y1="521.20" x2="604.60" y2="534.90" stroke="#555" stroke-width="0.8"/>
<line x1="618.30" y1="536.20" x2="604.60" y2="549.90" stroke="#555" stroke-width="0.8"/>
<line x1="618.30" y1="551.20" x2="604.60" y2="564.90" stroke="#555" stroke-width="0.8"/>
<line x1="618.30" y1="566.20" x2="604.60" y2="579.90" stroke="#555" stroke-width="0.8"/>
<line x1="618.30" y1="581.20" x2="604.60" y2="594.90" stroke="#555" stroke-width="0.8"/>
<line x1="618.30" y1="596.20" x2="604.60" y2="609.90" stroke="#555" stroke-width="0.8"/>
<line x1="618.30" y1="611.20" x2="604.60" y2="624.90" stroke="#555" stroke-width="0.8"/>
<line x1="618.30" y1="626.20" x2="604.60" y2="639.90" stroke="#555" stroke-width="0.8"/>
<line x1="618.30" y1="641.20" x2="617.10" y2="642.40" stroke="#555" stroke-width="0.8"/>
<line x1="604.50" y1="459.00" x2="604.50" y2="489.50" stroke="#666" stroke-width="0.8"/>
<line x1="456.50" y1="459.00" x2="456.50" y2="489.50" stroke="#666" stroke-width="0.8"/>
<line x1="353.50" y1="459.00" x2="353.50" y2="532.50" stroke="#666" stroke-width="0.8"/>
<line x1="604.50" y1="462.50" x2="353.40" y2="462.50" stroke="#666" stroke-width="0.8"/>
<line x1="653.80" y1="489.50" x2="604.50" y2="489.50" stroke="#666" stroke-width="0.8"/>
<line x1="433.20" y1="489.50" x2="457.20" y2="489.50" stroke="#666" stroke-width="0.8"/>
<line x1="436.50" y1="489.50" x2="436.50" y2="531.80" stroke="#666" stroke-width="0.8"/>
<line x1="653.80" y1="637.50" x2="604.40" y2="637.50" stroke="#666" stroke-width="0.8"/>
<line x1="653.80" y1="741.50" x2="562.00" y2="741.50" stroke="#666" stroke-width="0.8"/>
<line x1="650.50" y1="489.50" x2="650.50" y2="741.00" stroke="#666" stroke-width="0.8"/>
<line x1="604.50" y1="642.00" x2="604.50" y2="667.00" stroke="#666" stroke-width="0.8"/>
<line x1="563.50" y1="640.00" x2="563.50" y2="667.00" stroke="#666" stroke-width="0.8"/>
<line x1="604.40" y1="664.50" x2="563.40" y2="664.50" stroke="#666" stroke-width="0.8"/>
<line x1="457.00" y1="535.00" x2="386.00" y2="606.00" stroke="#666" stroke-width="0.8"/>
<line x1="558.25" y1="638.75" x2="488.25" y2="707.50" stroke="#666" stroke-width="0.8"/>
<line x1="489.50" y1="706.50" x2="386.50" y2="605.50" stroke="#666" stroke-width="0.8"/>
<polygon points="604.50,462.20 601.30,461.30 601.30,463.10" fill="#222" stroke="none"/>
<polygon points="456.50,462.20 459.70,463.10 459.70,461.30" fill="#222" stroke="none"/>
<polygon points="456.50,462.20 453.30,461.30 453.30,463.10" fill="#222" stroke="none"/>
<polygon points="353.40,462.20 356.60,463.10 356.60,461.30" fill="#222" stroke="none"/>
<polygon points="604.40,664.40 601.20,663.50 601.20,665.30" fill="#222" stroke="none"/>
<polygon points="563.40,664.40 566.60,665.30 566.60,663.50" fill="#222" stroke="none"/>
<polygon points="489.50,706.50 487.85,703.62 486.59,704.90" fill="#222" stroke="none"/>
<polygon points="386.50,605.50 388.15,608.38 389.41,607.10" fill="#222" stroke="none"/>
<polygon points="650.65,489.50 649.75,492.70 651.55,492.70" fill="#222" stroke="none"/>
<polygon points="650.65,637.40 651.55,634.20 649.75,634.20" fill="#222" stroke="none"/>
<polygon points="650.65,637.40 649.75,640.60 651.55,640.60" fill="#222" stroke="none"/>
<polygon points="650.65,741.00 651.55,737.80 649.75,737.80" fill="#222" stroke="none"/>
<polygon points="436.50,489.50 435.60,492.70 437.40,492.70" fill="#222" stroke="none"/>
<polygon points="436.50,531.80 437.40,528.60 435.60,528.60" fill="#222" stroke="none"/>
<rect x="456.60" y="490.60" width="2.80" height="37.40" fill="#c8c8c8" stroke="#777" stroke-width="0.8"/>
<polyline points="480.50,494.30 463.40,525.50 461.50,526.20 460.60,523.20 477.20,493.40" stroke="#444" stroke-width="0.85" fill="#fff"/>
<rect x="475.20" y="489.80" width="7.90" height="1.40" fill="#777" stroke="none" stroke-width="0"/>
<rect x="477.20" y="491.00" width="3.60" height="2.60" fill="#999" stroke="#666" stroke-width="0.6"/>
<rect x="458.90" y="489.80" width="5.60" height="1.70" fill="#777" stroke="none" stroke-width="0"/>
<line x1="458.00" y1="532.50" x2="353.60" y2="532.50" stroke="#111" stroke-width="1.1"/>
<line x1="457.50" y1="534.50" x2="356.00" y2="534.50" stroke="#808080" stroke-width="1.2"/>
<line x1="457.50" y1="533.50" x2="355.50" y2="533.50" stroke="#e0e0e0" stroke-width="1.0"/>
<line x1="356.20" y1="534.60" x2="353.60" y2="532.60" stroke="#666" stroke-width="1.0"/>
<circle cx="457.80" cy="530.4" r="1.5" fill="#fff" stroke="#222" stroke-width="0.9"/>
<line x1="375.70" y1="527.50" x2="367.00" y2="527.50" stroke="#888" stroke-width="1.0"/>
<polygon points="368.90,527.60 365.40,527.60 365.40,537.50 368.90,537.50" stroke="#777" stroke-width="0.8" fill="#fff"/>
<line x1="458.50" y1="534.50" x2="458.50" y2="636.30" stroke="#8a8a8a" stroke-width="0.9"/>
<line x1="456.50" y1="534.50" x2="456.50" y2="638.40" stroke="#777" stroke-width="0.9"/>
<line x1="559.40" y1="636.50" x2="458.40" y2="636.50" stroke="#8a8a8a" stroke-width="0.9"/>
<line x1="559.40" y1="638.50" x2="456.50" y2="638.50" stroke="#777" stroke-width="0.9"/>
<rect x="574.00" y="635.20" width="30.50" height="2.60" fill="#9a9a9a" stroke="none" stroke-width="0"/>
<rect x="593.40" y="635.40" width="11.10" height="2.20" fill="#1a1a1a" stroke="none" stroke-width="0"/>
<polyline points="600.20,613.80 571.50,629.30 569.50,630.80 572.00,632.60 600.75,617.70" stroke="#444" stroke-width="0.85" fill="#fff"/>
<rect x="600.20" y="612.30" width="3.90" height="5.70" fill="#aaa" stroke="none" stroke-width="0"/>
<rect x="566.10" y="634.00" width="8.10" height="3.40" fill="#fff" stroke="#222" stroke-width="0.9"/>
<polygon points="572.00,634.00 569.70,630.40 567.70,634.00" stroke="#777" stroke-width="0.8" fill="#aaa"/>
<circle cx="563.60" cy="637" r="1.6" fill="#fff" stroke="#222" stroke-width="0.9"/>
<line x1="560.10" y1="638.20" x2="560.10" y2="741.30" stroke="#888" stroke-width="1.8"/>
<line x1="562.50" y1="638.20" x2="562.50" y2="737.50" stroke="#222" stroke-width="1.1"/>
<line x1="559.40" y1="737.30" x2="562.40" y2="741.20" stroke="#222" stroke-width="1.1"/>
<line x1="565.50" y1="640.00" x2="565.50" y2="648.60" stroke="#333" stroke-width="1.0"/>
<line x1="566.50" y1="719.20" x2="566.50" y2="725.50" stroke="#666" stroke-width="1.0"/>
<polygon points="566.70,725.30 556.40,725.30 556.40,728.60 566.70,728.60" stroke="#777" stroke-width="0.8" fill="#fff"/>
<polygon points="685.40,476.40 773.60,476.40 773.60,608.40 685.40,608.40" stroke="#777" stroke-width="1.0" fill="none"/>
<line x1="685.40" y1="491.50" x2="754.00" y2="491.50" stroke="#666" stroke-width="0.8"/>
<polygon points="753.00,490.20 759.00,491.60 753.00,493.00" stroke="#333" stroke-width="0.5" fill="#333"/>
<text x="0" y="0" font-size="9.5" text-anchor="middle" fill="#222" transform="translate(716.00,489.00) ">A1</text>
<line x1="759.30" y1="491.60" x2="759.30" y2="559" stroke="#777" stroke-width="0.7" stroke-dasharray="1.6,1.4"/>
<line x1="685.40" y1="509.50" x2="749.40" y2="509.50" stroke="#666" stroke-width="0.8"/>
<polygon points="748.40,507.60 754.40,509.00 748.40,510.40" stroke="#333" stroke-width="0.5" fill="#333"/>
<text x="0" y="0" font-size="9.5" text-anchor="middle" fill="#222" transform="translate(716.00,507.00) ">X1</text>
<line x1="754.70" y1="509.00" x2="754.70" y2="559" stroke="#777" stroke-width="0.7" stroke-dasharray="1.6,1.4"/>
<line x1="685.40" y1="529.50" x2="742.20" y2="529.50" stroke="#666" stroke-width="0.8"/>
<polygon points="741.20,527.60 747.20,529.00 741.20,530.40" stroke="#333" stroke-width="0.5" fill="#333"/>
<text x="0" y="0" font-size="9.5" text-anchor="middle" fill="#222" transform="translate(716.00,527.00) ">Y1</text>
<line x1="747.50" y1="529.00" x2="747.50" y2="559" stroke="#777" stroke-width="0.7" stroke-dasharray="1.6,1.4"/>
<line x1="685.40" y1="559.50" x2="759.60" y2="559.50" stroke="#666" stroke-width="0.8"/>
<line x1="759.50" y1="559.00" x2="759.50" y2="608.40" stroke="#666" stroke-width="0.8"/>
<line x1="749.50" y1="559.00" x2="749.50" y2="608.40" stroke="#666" stroke-width="0.8"/>
<line x1="745.50" y1="571.00" x2="745.50" y2="608.40" stroke="#666" stroke-width="0.8"/>
<polygon points="750.00,559.00 754.40,559.00 754.40,593.00 750.00,593.00" stroke="#666" stroke-width="0.8" fill="none"/>
<polygon points="731.50,559.50 749.50,559.50 749.50,562.80 731.50,562.80" stroke="#777" stroke-width="0.7" fill="none"/>
<polygon points="745.40,559.50 750.00,559.50 750.00,568.00 745.40,568.00" stroke="#444" stroke-width="1.0" fill="none"/>
<polygon points="665.50,623.20 795.50,623.20 795.50,708.80 665.50,708.80" stroke="#777" stroke-width="1.0" fill="none"/>
<line x1="679.50" y1="623.20" x2="679.50" y2="690.20" stroke="#666" stroke-width="0.8"/>
<polygon points="678.10,689.20 679.50,695.20 680.90,689.20" stroke="#333" stroke-width="0.5" fill="#333"/>
<text x="0" y="0" font-size="10.5" text-anchor="middle" fill="#222" transform="translate(677.50,662.00) rotate(-90)">A2</text>
<line x1="698.50" y1="623.20" x2="698.50" y2="684.80" stroke="#666" stroke-width="0.8"/>
<polygon points="696.60,683.80 698.00,689.80 699.40,683.80" stroke="#333" stroke-width="0.5" fill="#333"/>
<text x="0" y="0" font-size="10.5" text-anchor="middle" fill="#222" transform="translate(696.00,658.00) rotate(-90)">X2</text>
<line x1="715.50" y1="623.20" x2="715.50" y2="677.50" stroke="#666" stroke-width="0.8"/>
<polygon points="714.30,676.50 715.70,682.50 717.10,676.50" stroke="#333" stroke-width="0.5" fill="#333"/>
<text x="0" y="0" font-size="10.5" text-anchor="middle" fill="#222" transform="translate(713.70,654.40) rotate(-90)">Y2</text>
<line x1="746.50" y1="623.20" x2="746.50" y2="695.20" stroke="#666" stroke-width="0.8"/>
<line x1="746.50" y1="695.50" x2="795.50" y2="695.50" stroke="#666" stroke-width="0.8"/>
<line x1="746.50" y1="681.50" x2="795.50" y2="681.50" stroke="#666" stroke-width="0.8"/>
<line x1="746.50" y1="685.50" x2="795.50" y2="685.50" stroke="#666" stroke-width="0.8"/>
<line x1="678.50" y1="695.20" x2="746.50" y2="695.20" stroke="#777" stroke-width="0.7" stroke-dasharray="1.6,1.4"/>
<line x1="698.00" y1="689.80" x2="746.50" y2="689.80" stroke="#777" stroke-width="0.7" stroke-dasharray="1.6,1.4"/>
<line x1="715.70" y1="682.50" x2="759.00" y2="682.50" stroke="#777" stroke-width="0.7" stroke-dasharray="1.6,1.4"/>
<polygon points="746.50,685.20 781.00,685.20 781.00,689.80 746.50,689.80" stroke="#666" stroke-width="0.8" fill="none"/>
<polyline points="746.50,667.00 750.70,667.00 750.70,681.20" stroke="#666" stroke-width="0.8" fill="none"/>
<polygon points="747.50,681.20 755.00,681.20 755.00,686.00 747.50,686.00" stroke="#444" stroke-width="0.9" fill="none"/>
<text x="0" y="0" font-size="16.6" text-anchor="middle" fill="#111" textLength="66" lengthAdjust="spacingAndGlyphs" transform="translate(140.80,455.60) ">A1,X1,Y1</text>
<text x="0" y="0" font-size="16.6" text-anchor="middle" fill="#111" textLength="18.5" lengthAdjust="spacingAndGlyphs" transform="translate(267.00,459.00) ">B2</text>
<text x="0" y="0" font-size="16.6" text-anchor="middle" fill="#111" textLength="66.5" lengthAdjust="spacingAndGlyphs" transform="translate(26.60,564.20) rotate(-90)">A2,X2,Y2</text>
<text x="0" y="0" font-size="16.6" text-anchor="middle" fill="#111" textLength="16.5" lengthAdjust="spacingAndGlyphs" transform="translate(30.60,689.60) rotate(-90)">B1</text>
<text x="0" y="0" font-size="16.6" text-anchor="middle" fill="#111" textLength="18.5" lengthAdjust="spacingAndGlyphs" transform="translate(87.90,660.80) ">C1</text>
<text x="0" y="0" font-size="16.6" text-anchor="middle" fill="#111" textLength="18.5" lengthAdjust="spacingAndGlyphs" transform="translate(239.60,510.80) rotate(-90)">C2</text>
<text x="0" y="0" font-size="16.6" text-anchor="middle" fill="#111" transform="translate(225.50,649.50) rotate(-45) translate(0,6)">D</text>
<text x="0" y="0" font-size="16.6" text-anchor="middle" fill="#111" textLength="66" lengthAdjust="spacingAndGlyphs" transform="translate(530.50,455.60) ">A1,X1,Y1</text>
<text x="0" y="0" font-size="16.6" text-anchor="middle" fill="#111" textLength="18.5" lengthAdjust="spacingAndGlyphs" transform="translate(405.50,459.00) ">B2</text>
<text x="0" y="0" font-size="16.6" text-anchor="middle" fill="#111" textLength="66.5" lengthAdjust="spacingAndGlyphs" transform="translate(644.10,564.20) rotate(-90)">A2,X2,Y2</text>
<text x="0" y="0" font-size="16.6" text-anchor="middle" fill="#111" textLength="16.5" lengthAdjust="spacingAndGlyphs" transform="translate(648.00,689.60) rotate(-90)">B1</text>
<text x="0" y="0" font-size="16.6" text-anchor="middle" fill="#111" textLength="18.5" lengthAdjust="spacingAndGlyphs" transform="translate(583.50,660.80) ">C1</text>
<text x="0" y="0" font-size="16.6" text-anchor="middle" fill="#111" textLength="18.5" lengthAdjust="spacingAndGlyphs" transform="translate(433.40,510.80) rotate(-90)">C2</text>
<text x="0" y="0" font-size="16.6" text-anchor="middle" fill="#111" transform="translate(444.50,647.00) rotate(45) translate(0,6)">D</text>
</svg></body></html>
